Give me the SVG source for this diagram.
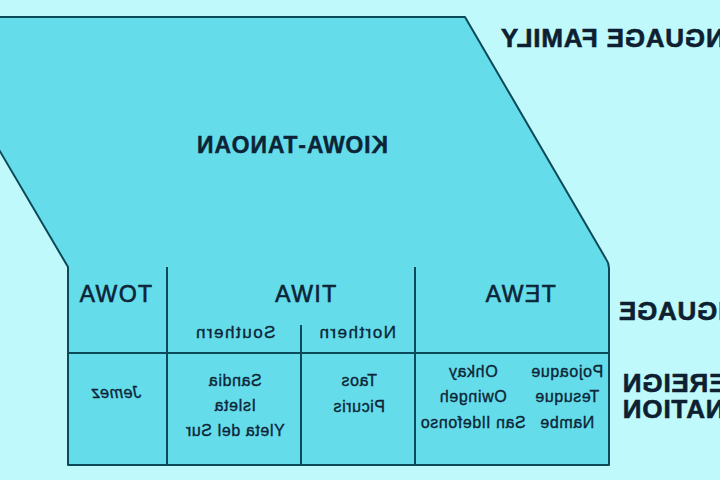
<svg xmlns="http://www.w3.org/2000/svg" width="720" height="480" viewBox="0 0 720 480">
<style>
.bg{fill:#c0f9fc}
.shape{fill:#64dcea;stroke:#0c4a5a;stroke-width:2;stroke-linejoin:round}
.ln{stroke:#0c4a5a;stroke-width:2;fill:none}
.side{font-family:"Liberation Sans",Arial,sans-serif;font-weight:bold;font-size:26px;letter-spacing:0.8px;fill:#0d1f30;stroke:#0d1f30;stroke-width:0.6px;text-anchor:end}
.fam{font-family:"Liberation Sans",Arial,sans-serif;font-weight:bold;font-size:23px;letter-spacing:0.8px;fill:#0d2436;stroke:#0d2436;stroke-width:0.4px;text-anchor:middle}
.lang{font-family:"Liberation Sans",Arial,sans-serif;font-size:23px;letter-spacing:1.5px;fill:#0d2436;stroke:#0d2436;stroke-width:0.6px;text-anchor:middle}
.sub{font-family:"Liberation Sans",Arial,sans-serif;font-size:17px;letter-spacing:1.5px;fill:#0d2436;stroke:#0d2436;stroke-width:0.35px;text-anchor:middle}
.pl{font-family:"Liberation Sans",Arial,sans-serif;font-size:16px;letter-spacing:0.6px;fill:#0d2436;stroke:#0d2436;stroke-width:0.35px;text-anchor:middle}
</style>
<rect class="bg" x="0" y="0" width="720" height="480"/>
<g transform="matrix(-1 0 0 1 720 0)">
  <g id="kiowa-tanoan">
    <path class="shape" d="M 820 17 L 255 17 L 114 259 Q 111 263 111 268 L 111 465 L 652 465 L 652 267 L 799 17"/>
    <text class="fam" x="428" y="153">KIOWA-TANOAN</text>
  </g>
  <g id="table-lines">
    <line class="ln" x1="111" y1="353" x2="652" y2="353"/>
    <line class="ln" x1="553" y1="267" x2="553" y2="465"/>
    <line class="ln" x1="305" y1="267" x2="305" y2="465"/>
    <line class="ln" x1="419" y1="325" x2="419" y2="465"/>
  </g>
  <g id="towa">
    <text class="lang" x="605" y="302">TOWA</text>
    <text class="pl" x="604" y="398" font-style="italic">Jemez</text>
  </g>
  <g id="tiwa">
    <text class="lang" x="415" y="302">TIWA</text>
    <text class="sub" x="485" y="338">Southern</text>
    <text class="sub" x="363" y="338">Northern</text>
    <text class="pl" x="485" y="386">Sandia</text>
    <text class="pl" x="485" y="411">Isleta</text>
    <text class="pl" x="485" y="436">Yleta del Sur</text>
    <text class="pl" x="361" y="386">Taos</text>
    <text class="pl" x="361" y="412">Picuris</text>
  </g>
  <g id="tewa">
    <text class="lang" x="200" y="302">TEWA</text>
    <text class="pl" x="153" y="377">Pojoaque</text>
    <text class="pl" x="153" y="402">Tesuque</text>
    <text class="pl" x="153" y="428">Nambe</text>
    <text class="pl" x="247" y="377">Ohkay</text>
    <text class="pl" x="247" y="402">Owingeh</text>
    <text class="pl" x="247" y="428">San Ildefonso</text>
  </g>
  <g id="labels">
    <text class="side" x="220" y="47">LANGUAGE FAMILY</text>
    <text class="side" x="102" y="320">LANGUAGE</text>
    <text class="side" x="98" y="392">SOVEREIGN</text>
    <text class="side" x="98" y="418">NATION</text>
  </g>
</g>
</svg>
